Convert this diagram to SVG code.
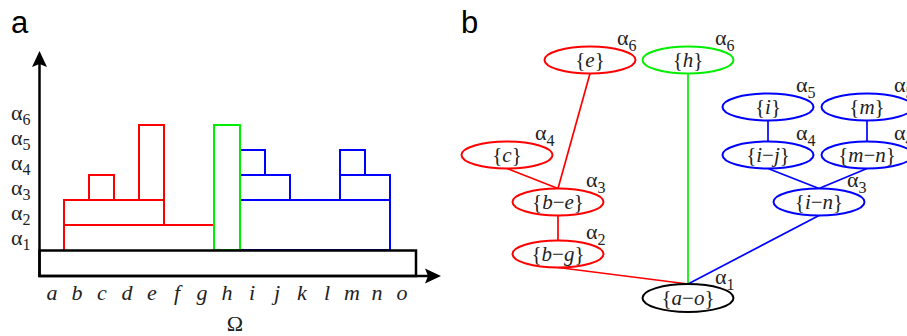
<svg xmlns="http://www.w3.org/2000/svg" width="907" height="336" viewBox="0 0 907 336">
<style>
.panel{font-family:"Liberation Sans",Arial,sans-serif;font-size:31px;fill:#000}
.it{font-family:"Liberation Serif","Times New Roman",serif;font-style:italic;font-size:22px;fill:#222}
.om{font-family:"Liberation Serif","Times New Roman",serif;font-size:22px;fill:#222}
.al{font-family:"Liberation Serif","Times New Roman",serif;font-size:22px;fill:#222}
.sub{font-size:16px}
.nt{font-family:"Liberation Serif","Times New Roman",serif;font-size:21px;fill:#222;text-anchor:middle}
.nt tspan.v{font-style:italic}
.r{stroke:#ff0000}
.g{stroke:#00ee00}
.b{stroke:#0000ff}
.k{stroke:#000}
.box{fill:none;stroke-width:2}
.ell{fill:#fff;stroke-width:2}
.edge{fill:none;stroke-width:1.7}
</style>

<text class="panel" x="11" y="33">a</text>
<text class="panel" x="461" y="33">b</text>

<!-- Panel a -->
<g id="bars">
  <g id="red-bars" class="box r">
    <path d="M64,250 V200 H164 V225"/>
    <line x1="64" y1="225" x2="214" y2="225"/>
    <rect x="89" y="175" width="25" height="25"/>
    <rect x="139" y="125" width="25" height="75"/>
  </g>
  <g id="blue-bars" class="box b">
    <path d="M240,250 H390 V200 H240"/>
    <rect x="240" y="150" width="25" height="25"/>
    <rect x="240" y="175" width="50" height="25"/>
    <rect x="340" y="150" width="25" height="25"/>
    <rect x="340" y="175" width="50" height="25"/>
  </g>
  <g id="green-bar" class="box g">
    <rect x="214" y="125" width="26" height="125"/>
  </g>
  <g id="base" class="k">
    <rect x="39.5" y="250.5" width="376.5" height="25.5" fill="none" stroke-width="2.5"/>
  </g>
</g>
<g id="axes" class="k" stroke-width="2.5" fill="none">
  <line x1="39.5" y1="277" x2="39.5" y2="60"/>
  <line x1="38.5" y1="276" x2="430" y2="276"/>
  <path d="M39.5,51 L47,67 L39.5,64 L32,67 Z" fill="#000" stroke="none"/>
  <path d="M441,276 L425,283.5 L428,276 L425,268.5 Z" fill="#000" stroke="none"/>
</g>
<g id="y-labels">
  <text class="al" x="11" y="120">α<tspan class="sub" dy="5">6</tspan></text>
  <text class="al" x="11" y="145">α<tspan class="sub" dy="5">5</tspan></text>
  <text class="al" x="11" y="170">α<tspan class="sub" dy="5">4</tspan></text>
  <text class="al" x="11" y="195">α<tspan class="sub" dy="5">3</tspan></text>
  <text class="al" x="11" y="220">α<tspan class="sub" dy="5">2</tspan></text>
  <text class="al" x="11" y="245">α<tspan class="sub" dy="5">1</tspan></text>
</g>
<g id="x-labels" text-anchor="middle">
  <text class="it" x="52" y="300">a</text>
  <text class="it" x="77" y="300">b</text>
  <text class="it" x="102" y="300">c</text>
  <text class="it" x="127" y="300">d</text>
  <text class="it" x="152" y="300">e</text>
  <text class="it" x="177" y="300">f</text>
  <text class="it" x="202" y="300">g</text>
  <text class="it" x="227" y="300">h</text>
  <text class="it" x="252" y="300">i</text>
  <text class="it" x="277" y="300">j</text>
  <text class="it" x="302" y="300">k</text>
  <text class="it" x="327" y="300">l</text>
  <text class="it" x="352" y="300">m</text>
  <text class="it" x="377" y="300">n</text>
  <text class="it" x="402" y="300">o</text>
  <text class="om" x="235" y="331">Ω</text>
</g>

<!-- Panel b -->
<g id="connectors">
  <line class="edge r" x1="590" y1="73.5" x2="558" y2="188.5"/>
  <line class="edge r" x1="507" y1="168.5" x2="558" y2="188.5"/>
  <line class="edge r" x1="558" y1="215.5" x2="558" y2="240.5"/>
  <line class="edge r" x1="558" y1="267.5" x2="688" y2="284"/>
  <line class="edge g" x1="688" y1="73.5" x2="688" y2="284"/>
  <line class="edge b" x1="819" y1="215.5" x2="688" y2="284"/>
  <line class="edge b" x1="768" y1="120.5" x2="768" y2="141.5"/>
  <line class="edge b" x1="867" y1="120.5" x2="867" y2="141.5"/>
  <line class="edge b" x1="768" y1="168.5" x2="819" y2="188.5"/>
  <line class="edge b" x1="867" y1="168.5" x2="819" y2="188.5"/>
</g>

<g id="node-e">
  <ellipse class="ell r" cx="590" cy="60" rx="45.5" ry="13.5"/>
  <text class="nt" x="590" y="67">{<tspan class="v">e</tspan>}</text>
  <text class="al" x="617" y="45">α<tspan class="sub" dy="6">6</tspan></text>
</g>
<g id="node-h">
  <ellipse class="ell g" cx="688" cy="60" rx="45.5" ry="13.5"/>
  <text class="nt" x="688" y="67">{<tspan class="v">h</tspan>}</text>
  <text class="al" x="715" y="45">α<tspan class="sub" dy="6">6</tspan></text>
</g>
<g id="node-i">
  <ellipse class="ell b" cx="768" cy="107" rx="45.5" ry="13.5"/>
  <text class="nt" x="768" y="114">{<tspan class="v">i</tspan>}</text>
  <text class="al" x="796" y="92">α<tspan class="sub" dy="6">5</tspan></text>
</g>
<g id="node-m">
  <ellipse class="ell b" cx="867" cy="107" rx="45.5" ry="13.5"/>
  <text class="nt" x="867" y="114">{<tspan class="v">m</tspan>}</text>
  <text class="al" x="894" y="92">α<tspan class="sub" dy="6">5</tspan></text>
</g>
<g id="node-c">
  <ellipse class="ell r" cx="507" cy="155" rx="45.5" ry="13.5"/>
  <text class="nt" x="507" y="162">{<tspan class="v">c</tspan>}</text>
  <text class="al" x="535" y="140">α<tspan class="sub" dy="6">4</tspan></text>
</g>
<g id="node-i-j">
  <ellipse class="ell b" cx="768" cy="155" rx="45.5" ry="13.5"/>
  <text class="nt" x="768" y="162">{<tspan class="v">i</tspan>−<tspan class="v">j</tspan>}</text>
  <text class="al" x="796" y="140">α<tspan class="sub" dy="6">4</tspan></text>
</g>
<g id="node-m-n">
  <ellipse class="ell b" cx="867" cy="155" rx="45.5" ry="13.5"/>
  <text class="nt" x="867" y="162">{<tspan class="v">m</tspan>−<tspan class="v">n</tspan>}</text>
  <text class="al" x="894" y="140">α<tspan class="sub" dy="6">4</tspan></text>
</g>
<g id="node-b-e">
  <ellipse class="ell r" cx="558" cy="202" rx="45.5" ry="13.5"/>
  <text class="nt" x="558" y="209">{<tspan class="v">b</tspan>−<tspan class="v">e</tspan>}</text>
  <text class="al" x="586" y="187">α<tspan class="sub" dy="6">3</tspan></text>
</g>
<g id="node-i-n">
  <ellipse class="ell b" cx="819" cy="202" rx="45.5" ry="13.5"/>
  <text class="nt" x="819" y="209">{<tspan class="v">i</tspan>−<tspan class="v">n</tspan>}</text>
  <text class="al" x="847" y="187">α<tspan class="sub" dy="6">3</tspan></text>
</g>
<g id="node-b-g">
  <ellipse class="ell r" cx="558" cy="254" rx="45.5" ry="13.5"/>
  <text class="nt" x="558" y="261">{<tspan class="v">b</tspan>−<tspan class="v">g</tspan>}</text>
  <text class="al" x="586" y="239">α<tspan class="sub" dy="6">2</tspan></text>
</g>
<g id="node-a-o">
  <ellipse class="ell k" cx="688" cy="298" rx="45.5" ry="14"/>
  <text class="nt" x="688" y="305">{<tspan class="v">a</tspan>−<tspan class="v">o</tspan>}</text>
  <text class="al" x="715" y="284">α<tspan class="sub" dy="6">1</tspan></text>
</g>
</svg>
